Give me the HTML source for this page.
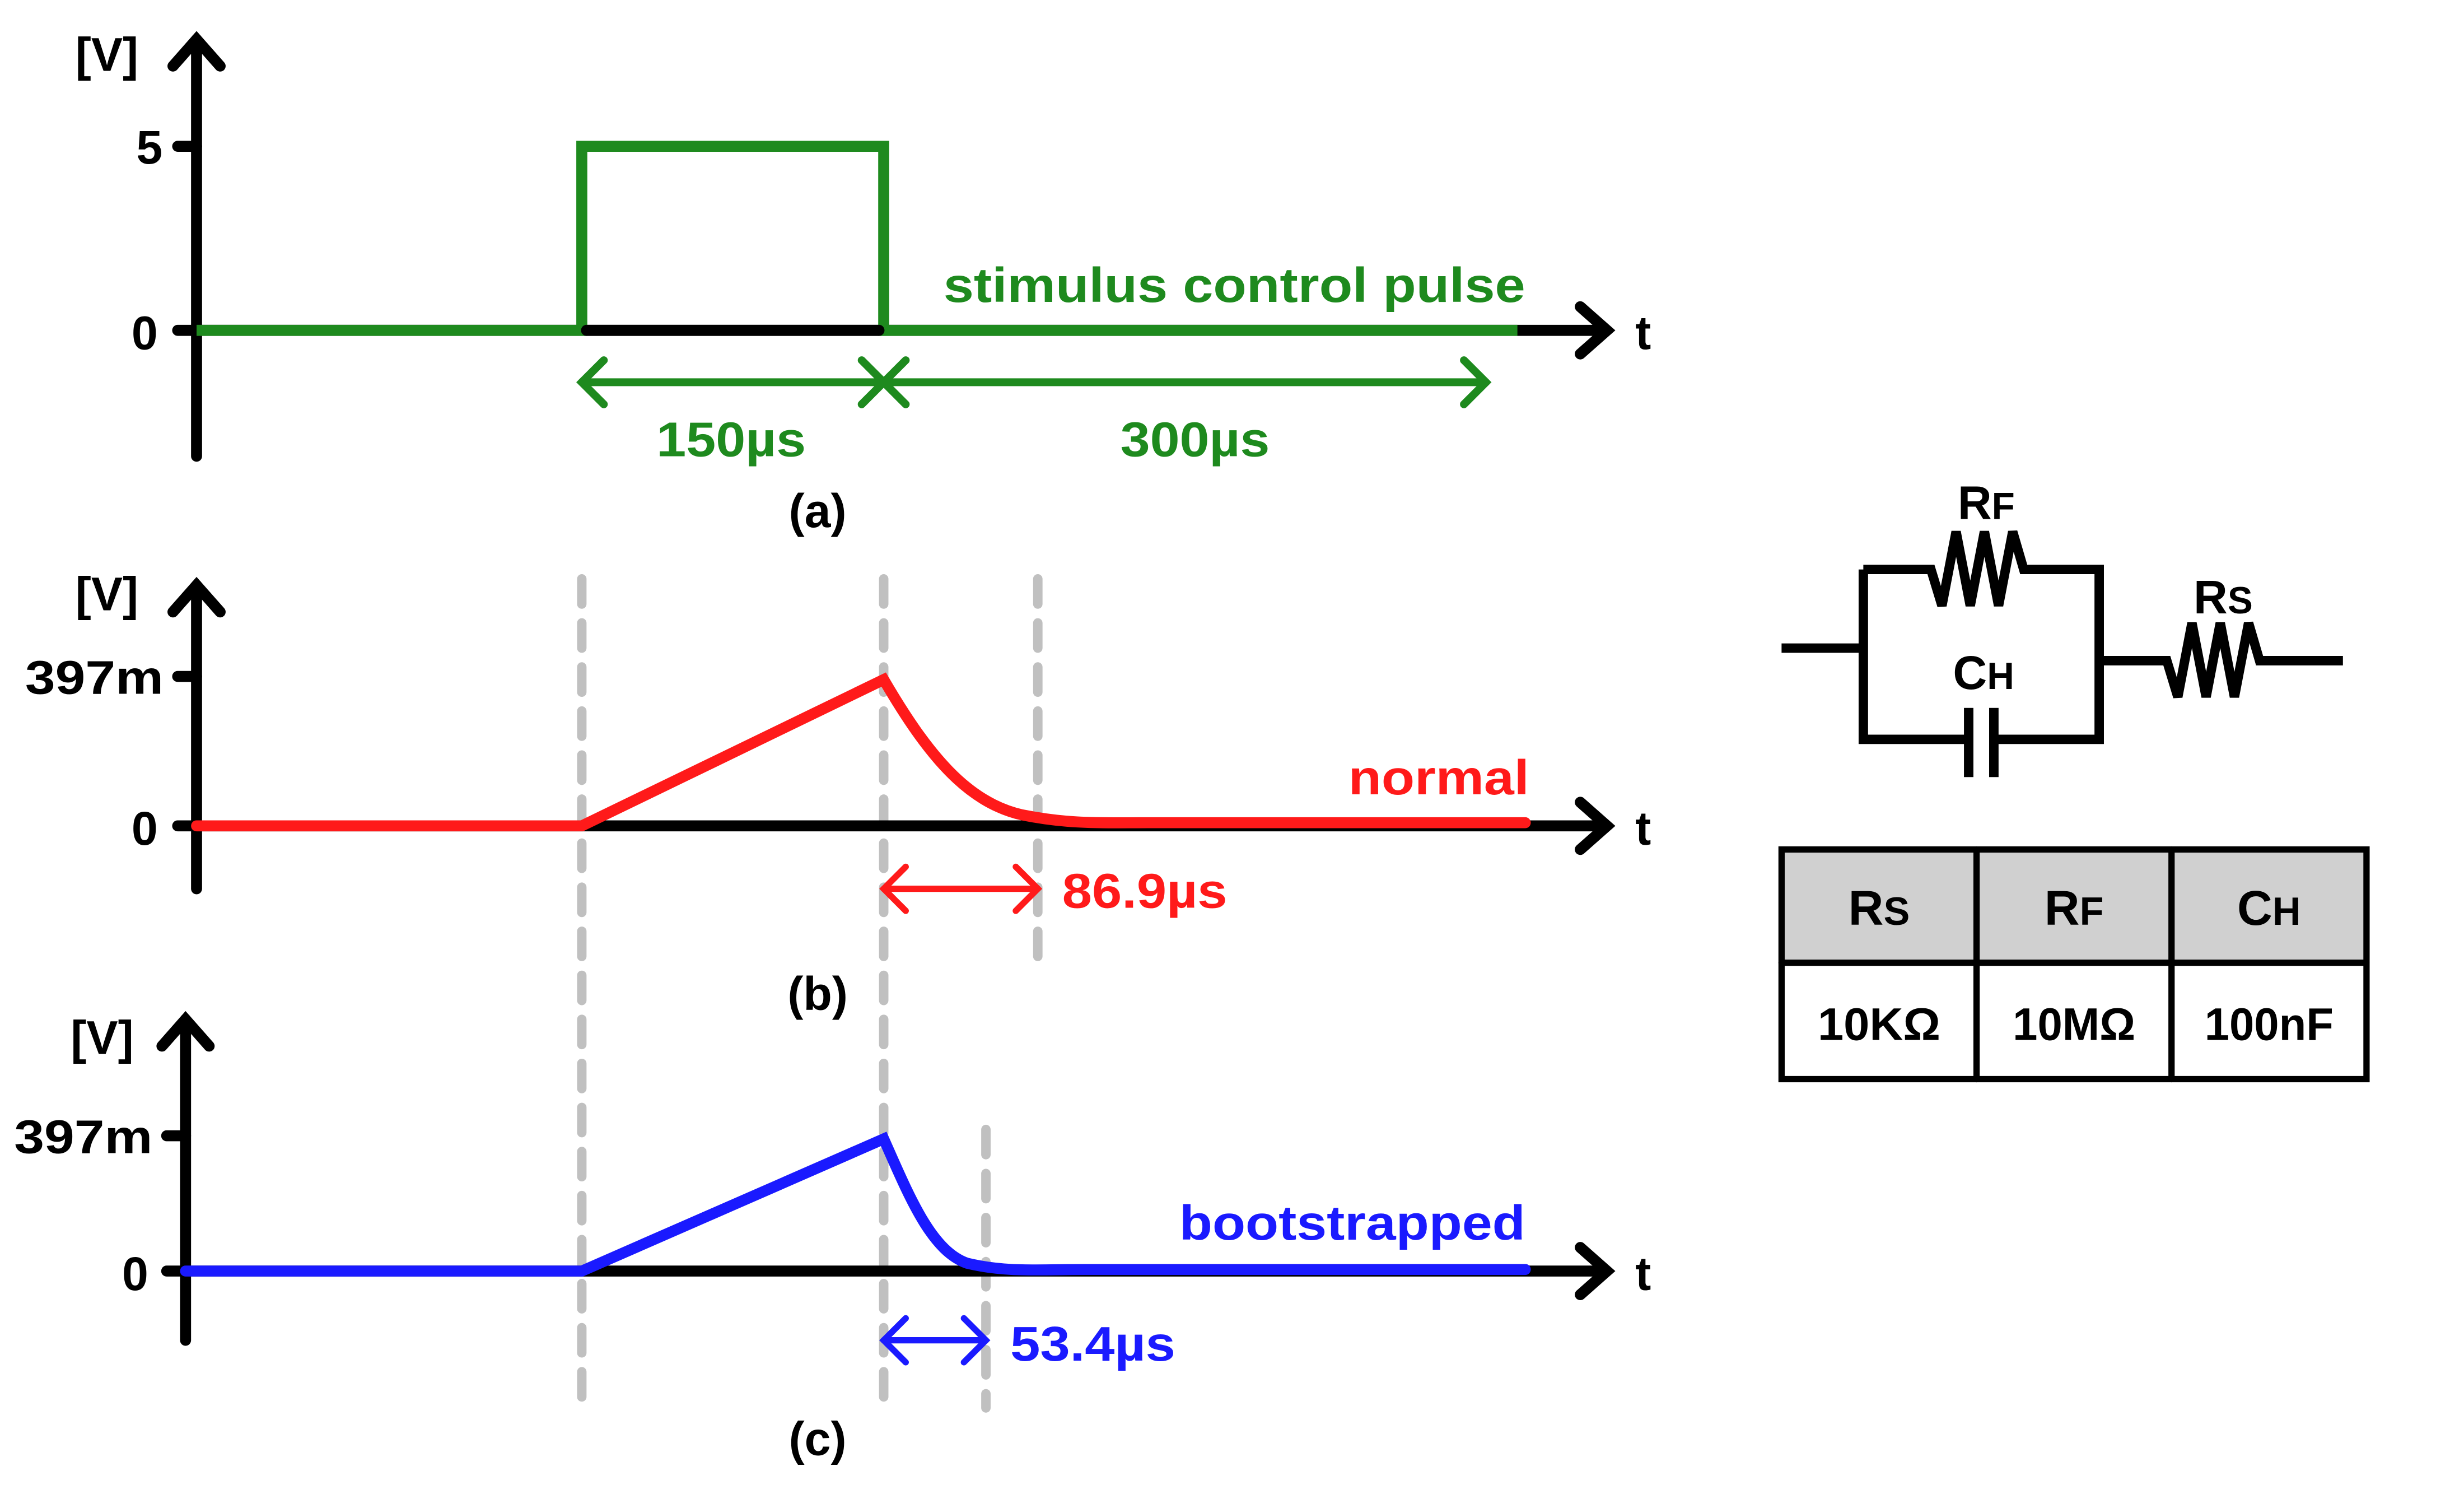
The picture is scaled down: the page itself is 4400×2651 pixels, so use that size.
<!DOCTYPE html>
<html><head><meta charset="utf-8"><style>
html,body{margin:0;padding:0;background:#fff;}
svg{display:block;}
text{font-family:"Liberation Sans",sans-serif;font-weight:bold;}
</style></head><body>
<svg width="4400" height="2651" viewBox="0 0 1567 944" preserveAspectRatio="none" xmlns="http://www.w3.org/2000/svg">
<g stroke-linecap="round" fill="none">
<g stroke="#c0c0c0" stroke-width="6" stroke-dasharray="16,12">
<line x1="370" y1="368" x2="370" y2="895"/>
<line x1="562" y1="368" x2="562" y2="895"/>
<line x1="660" y1="368" x2="660" y2="615"/>
<line x1="627" y1="718" x2="627" y2="895"/>
</g>
<g stroke="#000" stroke-width="7">
<line x1="125" y1="290" x2="125" y2="25"/><path d="M110 42 L125 25 L140 42"/>
<line x1="125" y1="210" x2="1020" y2="210"/><path d="M1005 195 L1022 210 L1005 225"/>
<line x1="113" y1="93" x2="125" y2="93"/><line x1="113" y1="210" x2="125" y2="210"/>
<line x1="125" y1="565" x2="125" y2="372"/><path d="M110 389 L125 372 L140 389"/>
<line x1="125" y1="525" x2="1020" y2="525"/><path d="M1005 510 L1022 525 L1005 540"/>
<line x1="113" y1="430" x2="125" y2="430"/><line x1="113" y1="525" x2="125" y2="525"/>
<line x1="118" y1="852" x2="118" y2="648"/><path d="M103 665 L118 648 L133 665"/>
<line x1="118" y1="808" x2="1020" y2="808"/><path d="M1005 793 L1022 808 L1005 823"/>
<line x1="106" y1="722" x2="118" y2="722"/><line x1="106" y1="808" x2="118" y2="808"/>
</g>
<path d="M125 210 L370 210 L370 93 L562 93 L562 210 L965 210" stroke="#1e8a1e" stroke-width="7" stroke-linecap="butt"/>
<line x1="373" y1="210" x2="559" y2="210" stroke="#000" stroke-width="7"/>
<g stroke="#1e8a1e" stroke-width="5">
<line x1="370" y1="243" x2="945" y2="243"/>
<path d="M384 229 L370 243 L384 257"/><path d="M548 229 L562 243 L548 257"/><path d="M576 229 L562 243 L576 257"/><path d="M931 229 L945 243 L931 257"/>
</g>
<path d="M125 525 L370 525 L562 432 C590 480 615 510 650 518 C680 524 700 523 730 523 L970 523" stroke="#ff1a1a" stroke-width="7"/>
<g stroke="#ff1a1a" stroke-width="4"><line x1="562" y1="565" x2="660" y2="565"/><path d="M576 551 L562 565 L576 579"/><path d="M646 551 L660 565 L646 579"/></g>
<path d="M118 808 L370 808 L562 724 C578 760 592 795 615 803 C640 809 660 807 690 807 L970 807" stroke="#1a1aff" stroke-width="7"/>
<g stroke="#1a1aff" stroke-width="4"><line x1="562" y1="852" x2="627" y2="852"/><path d="M576 838 L562 852 L576 866"/><path d="M613 838 L627 852 L613 866"/></g>
<g stroke="#000" stroke-width="6" stroke-linejoin="miter" stroke-linecap="butt">
<line x1="1133" y1="412" x2="1185" y2="412"/>
<path d="M1185 362 L1228 362 L1235 385 L1244 338 L1253 385 L1262 338 L1271 385 L1280 338 L1287 362 L1335 362 L1335 470 L1268 470"/>
<path d="M1185 362 L1185 470 L1252 470"/>
<line x1="1252" y1="450" x2="1252" y2="494"/><line x1="1268" y1="450" x2="1268" y2="494"/>
<path d="M1335 420 L1378 420 L1385 443 L1394 396 L1403 443 L1412 396 L1421 443 L1430 396 L1437 420 L1490 420"/>
</g>
<rect x="1133" y="540" width="372" height="72" fill="#d0d0d0"/>
<g stroke="#000" stroke-width="4">
<rect x="1133" y="540" width="372" height="146"/>
<line x1="1133" y1="612" x2="1505" y2="612"/>
<line x1="1257" y1="540" x2="1257" y2="686"/>
<line x1="1381" y1="540" x2="1381" y2="686"/>
</g>
</g>
<g font-size="30" fill="#000">
<text x="68" y="45" text-anchor="middle">[V]</text>
<text x="95" y="104" text-anchor="middle">5</text>
<text x="92" y="222" text-anchor="middle">0</text>
<text x="1045" y="222" text-anchor="middle">t</text>
<text x="520" y="335" text-anchor="middle">(a)</text>
<text x="68" y="388" text-anchor="middle">[V]</text>
<text x="60" y="441" text-anchor="middle" textLength="88" lengthAdjust="spacingAndGlyphs">397m</text>
<text x="92" y="537" text-anchor="middle">0</text>
<text x="1045" y="537" text-anchor="middle">t</text>
<text x="520" y="642" text-anchor="middle">(b)</text>
<text x="65" y="670" text-anchor="middle">[V]</text>
<text x="53" y="733" text-anchor="middle" textLength="88" lengthAdjust="spacingAndGlyphs">397m</text>
<text x="86" y="820" text-anchor="middle">0</text>
<text x="1045" y="820" text-anchor="middle">t</text>
<text x="520" y="925" text-anchor="middle">(c)</text>
</g>
<g font-size="31" fill="#1e8a1e">
<text x="785" y="192" text-anchor="middle" textLength="370" lengthAdjust="spacingAndGlyphs">stimulus control pulse</text>
<text x="465" y="290" text-anchor="middle" textLength="95" lengthAdjust="spacingAndGlyphs">150µs</text>
<text x="760" y="290" text-anchor="middle" textLength="95" lengthAdjust="spacingAndGlyphs">300µs</text>
</g>
<text x="915" y="505" text-anchor="middle" font-size="31" fill="#ff1a1a" textLength="115" lengthAdjust="spacingAndGlyphs">normal</text>
<text x="728" y="577" text-anchor="middle" font-size="31" fill="#ff1a1a" textLength="105" lengthAdjust="spacingAndGlyphs">86.9µs</text>
<text x="860" y="788" text-anchor="middle" font-size="31" fill="#1a1aff" textLength="220" lengthAdjust="spacingAndGlyphs">bootstrapped</text>
<text x="695" y="865" text-anchor="middle" font-size="31" fill="#1a1aff" textLength="105" lengthAdjust="spacingAndGlyphs">53.4µs</text>
<g fill="#000">
<text x="1245" y="330" font-size="30">R<tspan font-size="24">F</tspan></text>
<text x="1242" y="438" font-size="30">C<tspan font-size="24">H</tspan></text>
<text x="1395" y="390" font-size="30">R<tspan font-size="24">S</tspan></text>
<text x="1195" y="588" font-size="31" text-anchor="middle">R<tspan font-size="25">S</tspan></text>
<text x="1319" y="588" font-size="31" text-anchor="middle">R<tspan font-size="25">F</tspan></text>
<text x="1443" y="588" font-size="31" text-anchor="middle">C<tspan font-size="25">H</tspan></text>
<text x="1195" y="661" font-size="29" text-anchor="middle" textLength="78" lengthAdjust="spacingAndGlyphs">10KΩ</text>
<text x="1319" y="661" font-size="29" text-anchor="middle" textLength="78" lengthAdjust="spacingAndGlyphs">10MΩ</text>
<text x="1443" y="661" font-size="29" text-anchor="middle" textLength="82" lengthAdjust="spacingAndGlyphs">100nF</text>
</g>
</svg>
</body></html>
